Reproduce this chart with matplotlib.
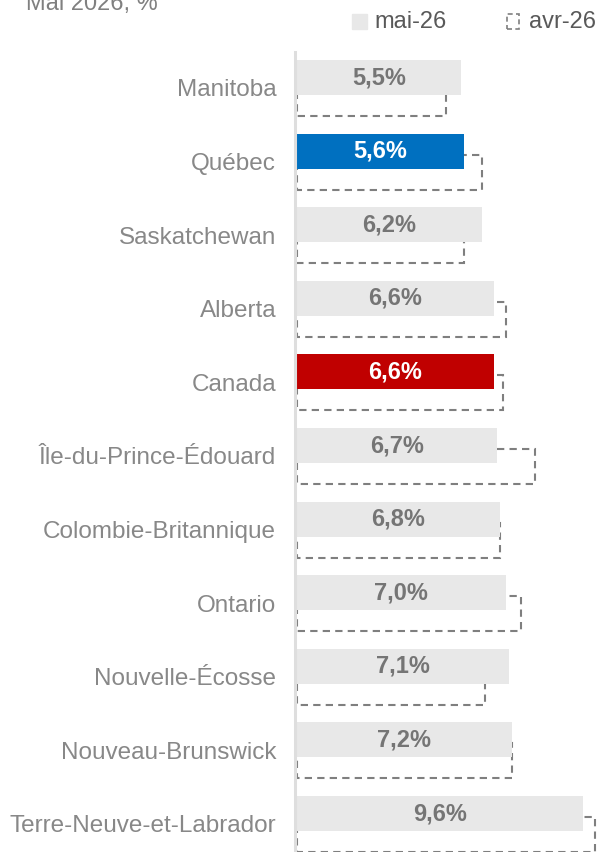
import matplotlib.pyplot as plt
from matplotlib.patches import Rectangle

# Données
provinces = ["Manitoba", "Québec", "Saskatchewan", "Alberta", "Canada",
             "Île-du-Prince-Édouard", "Colombie-Britannique", "Ontario",
             "Nouvelle-Écosse", "Nouveau-Brunswick", "Terre-Neuve-et-Labrador"]
mai_26 = [5.5, 5.6, 6.2, 6.6, 6.6, 6.7, 6.8, 7.0, 7.1, 7.2, 9.6]
avr_26 = [5.0, 6.2, 5.6, 7.0, 6.9, 8.0, 6.8, 7.5, 6.3, 7.2, 10.0]
couleurs = ["#E8E8E8", "#0070C0", "#E8E8E8", "#E8E8E8", "#C00000", "#E8E8E8",
            "#E8E8E8", "#E8E8E8", "#E8E8E8", "#E8E8E8", "#E8E8E8"]

W, H = 599, 852
plt.rcParams['font.family'] = ['Liberation Sans', 'DejaVu Sans']
fig = plt.figure(figsize=(W / 100, H / 100), dpi=100)

# axe placé au pixel près : x=297 pour 0, 29.8 px par point de %
x0, ppu = 297, 29.8
y_top, y_c0, pas = 52, 77.5, 73.6
ax = fig.add_axes([x0 / W, 0, (W - x0) / W, (H - y_top) / H])
ax.set_xlim(0, (W - x0) / ppu)
ax.set_ylim((H - y_c0) / pas, (y_top - y_c0) / pas)

haut = 35 / pas
decal = 21 / pas
pos = list(range(len(provinces)))

# barres avril en pointillés (dessous)
ax.barh([p + decal for p in pos], avr_26, height=haut, fill=False,
        edgecolor="#7F7F7F", linewidth=1.5, linestyle=(0, (3.5, 2.5)),
        zorder=1, clip_on=False)
# barres mai
ax.barh(pos, mai_26, height=haut, color=couleurs, zorder=2)

for p, v, c in zip(pos, mai_26, couleurs):
    tc = "white" if c != "#E8E8E8" else "#757575"
    ax.text(v / 2, p, f"{v:.1f}%".replace(".", ","), ha="center", va="center",
            fontsize=17, fontweight="bold", color=tc, zorder=3)

# ligne d'axe légèrement à gauche des barres
ax.plot([-0.06, -0.06], [ax.get_ylim()[0], ax.get_ylim()[1]],
        color="#DEDEDE", linewidth=2.2, zorder=4, clip_on=False)

ax.set_yticks([p + decal / 2 for p in pos])
ax.set_yticklabels(provinces, fontsize=17.5, color="#888888")
ax.tick_params(axis="y", length=0, pad=15)
ax.set_xticks([])
for s in ax.spines.values():
    s.set_visible(False)

# titre (coupé en haut)
fig.text(26 / W, 1 - 10 / H, "Mai 2026, %", fontsize=17, color="#808080",
         va="baseline", ha="left")

# légende
fig.patches.append(Rectangle((352 / W, 1 - 29 / H), 15 / W, 15 / H,
                             transform=fig.transFigure, color="#E8E8E8"))
fig.text(374 / W, 1 - 22 / H, "mai-26", fontsize=17, color="#595959",
         va="center", ha="left")
fig.patches.append(Rectangle((507 / W, 1 - 29 / H), 12 / W, 15 / H,
                             transform=fig.transFigure, fill=False,
                             edgecolor="#7F7F7F", linewidth=1.2,
                             linestyle=(0, (3, 2))))
fig.text(529 / W, 1 - 22 / H, "avr-26", fontsize=17, color="#595959",
         va="center", ha="left")

fig.savefig("out.png", dpi=100)
